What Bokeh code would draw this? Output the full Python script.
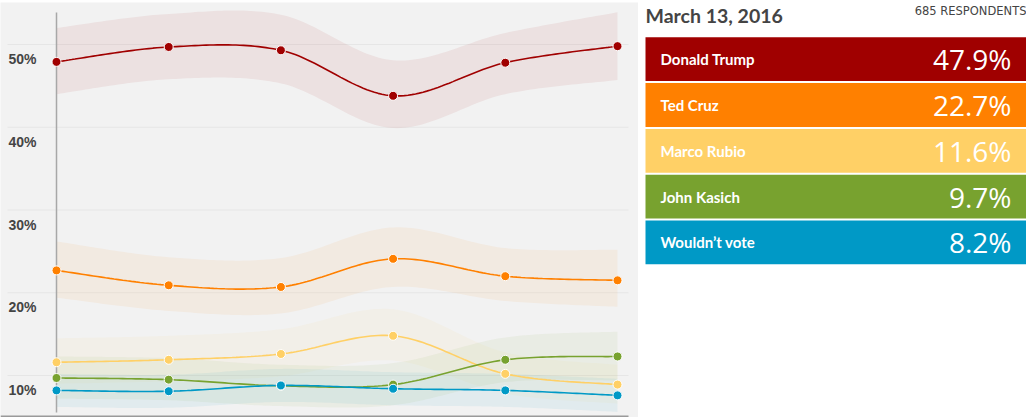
import numpy as np
from bokeh.plotting import figure
from bokeh.layouts import row
from bokeh.models import Range1d
from bokeh.core.properties import value
from bokeh.embed import file_html
from bokeh.resources import INLINE

# ---------------- data ----------------
poll_index = [0, 1, 2, 3, 4, 5]
candidates = ["Donald Trump", "Ted Cruz", "Marco Rubio", "John Kasich", "Wouldn\u2019t vote"]
colors = ["#a00000", "#ff8000", "#ffd066", "#78a22f", "#0099c6"]

trump = [47.9, 49.7, 49.3, 43.8, 47.8, 49.8]
trump_lo = [44.0, 45.8, 45.3, 39.9, 44.0, 45.7]
trump_hi = [52.0, 53.7, 53.6, 48.1, 51.4, 53.9]

cruz = [22.7, 20.9, 20.7, 24.1, 22.0, 21.5]
cruz_lo = [19.4, 17.8, 17.5, 20.7, 19.0, 18.3]
cruz_hi = [26.2, 24.3, 24.2, 27.9, 25.4, 25.2]

rubio = [11.6, 11.9, 12.6, 14.8, 10.2, 8.9]
rubio_lo = [9.0, 9.3, 9.9, 11.8, 7.8, 6.6]
rubio_hi = [14.5, 14.8, 15.6, 18.0, 12.8, 11.3]

kasich = [9.7, 9.5, 8.75, 8.9, 11.9, 12.3]
kasich_lo = [7.2, 7.0, 6.3, 6.4, 9.2, 9.4]
kasich_hi = [12.3, 12.1, 11.3, 11.5, 14.6, 15.3]

wouldnt = [8.2, 8.1, 8.8, 8.4, 8.2, 7.6]
wouldnt_lo = [6.2, 6.1, 6.8, 6.4, 6.2, 5.6]
wouldnt_hi = [10.2, 10.1, 10.8, 10.4, 10.2, 9.6]

series = [trump, cruz, rubio, kasich, wouldnt]
series_lo = [trump_lo, cruz_lo, rubio_lo, kasich_lo, wouldnt_lo]
series_hi = [trump_hi, cruz_hi, rubio_hi, kasich_hi, wouldnt_hi]

latest_date = "March 13, 2016"
respondents = 685
latest_values = [47.9, 22.7, 11.6, 9.7, 8.2]

y_ticks = [10, 20, 30, 40, 50]
y_tick_labels = ["10%", "20%", "30%", "40%", "50%"]

# ---------------- layout constants (pixels) ----------------
W_LEFT, H = 638, 417
X0_PX, DX_PX = 56.0, 112.2
Y10_PX, PX_PER_PCT = 375.0, 8.275
FRAME_TOP = 2


def xv(px):
    return (px - X0_PX) / DX_PX


def yv(px):
    return 10 + (Y10_PX - px) / PX_PER_PCT


def cardinal(xs, ys, n=30):
    P = np.column_stack([np.asarray(xs, float), np.asarray(ys, float)])
    N = len(P)
    out = [P[0]]
    t = np.linspace(0, 1, n + 1)[1:][:, None]
    for i in range(N - 1):
        p0 = P[i - 1] if i > 0 else P[i]
        p1, p2 = P[i], P[i + 1]
        p3 = P[i + 2] if i + 2 < N else P[i + 1]
        c1 = p1 + (p2 - p0) / 6.0
        c2 = p2 - (p3 - p1) / 6.0
        seg = ((1 - t) ** 3) * p1 + 3 * ((1 - t) ** 2) * t * c1 + 3 * (1 - t) * t ** 2 * c2 + t ** 3 * p2
        out.extend(seg)
    out = np.array(out)
    return out[:, 0], out[:, 1]


left = figure(width=W_LEFT, height=H, output_backend="svg", toolbar_location=None,
              x_axis_type=None, y_axis_type=None,
              x_range=Range1d(xv(0), xv(W_LEFT)), y_range=Range1d(yv(H), yv(FRAME_TOP)),
              min_border_left=0, min_border_right=0, min_border_bottom=0, min_border_top=FRAME_TOP)
left.background_fill_color = "#f2f2f2"
left.border_fill_color = "white"
left.outline_line_color = None
left.grid.visible = False

# grid lines
left.segment(x0=[xv(7)] * len(y_ticks), x1=[xv(628)] * len(y_ticks), y0=y_ticks, y1=y_ticks,
             line_color="#e6e6e6", line_width=1)

# tick labels (below the grid lines, left aligned)
left.text(x=[poll_index[0]] * len(y_ticks), y=y_ticks, text=y_tick_labels,
          x_offset=8 - X0_PX, y_offset=14.5, text_align="left", text_baseline="middle",
          text_font=value("Liberation Sans"), text_font_style="bold", text_font_size="14px",
          text_color="#444444")

# bands
for s_lo, s_hi, c in zip(series_lo, series_hi, colors):
    bx, blo = cardinal(poll_index, s_lo)
    _, bhi = cardinal(poll_index, s_hi)
    left.varea(x=bx, y1=blo, y2=bhi, fill_color=c, fill_alpha=0.065)

# vertical axis line
left.segment(x0=[poll_index[0]], x1=[poll_index[0]], y0=[yv(12)], y1=[yv(412)],
             line_color="#a8a8a8", line_width=1.5)

# bottom line
left.segment(x0=[xv(0)], x1=[xv(628)], y0=[yv(416)], y1=[yv(416)],
             line_color="#9a9a9a", line_width=2)

# lines and markers
for s, c in zip(series, colors):
    lx, ly = cardinal(poll_index, s)
    left.line(lx, ly, line_color=c, line_width=1.6)
for s, c in zip(series, colors):
    left.scatter(poll_index, s, size=9, fill_color=c, line_color="white", line_width=1)

# ---------------- legend panel ----------------
W_RIGHT = 1026 - W_LEFT
right = figure(width=W_RIGHT, height=H, output_backend="svg", toolbar_location=None,
               x_axis_type=None, y_axis_type=None,
               x_range=Range1d(0, W_RIGHT), y_range=Range1d(H, 0),
               min_border=0)
right.background_fill_color = "white"
right.border_fill_color = "white"
right.outline_line_color = None
right.grid.visible = False

ROW_TOP, ROW_H, ROW_GAP = 35, 44, 2
k = np.arange(len(candidates))
tops = ROW_TOP + k * (ROW_H + ROW_GAP)
right.quad(left=7, right=W_RIGHT, top=tops, bottom=tops + ROW_H, fill_color=colors, line_color=None)

centers = tops + ROW_H / 2
right.text(x=[22] * len(candidates), y=centers, text=candidates,
           text_align="left", text_baseline="middle",
           text_font=value("Lato"), text_font_style="bold", text_font_size="15px",
           text_color="white")
right.text(x=[373] * len(candidates), y=centers,
           text=[f"{v:.1f}%" for v in latest_values],
           text_align="right", text_baseline="middle",
           text_font=value("Open Sans"), text_font_size="28px", text_color="white")

right.text(x=[7], y=[13.5], text=[latest_date], text_align="left", text_baseline="middle",
           text_font=value("Lato"), text_font_style="bold", text_font_size="19.5px",
           text_color="#444444")
right.text(x=[W_RIGHT], y=[9], text=[f"{respondents} RESPONDENTS"], text_align="right",
           text_baseline="middle", text_font=value("DejaVu Sans"), text_font_size="11.5px",
           text_color="#444444")

layout = row(left, right)
open("out.html", "w").write(file_html(layout, INLINE))
